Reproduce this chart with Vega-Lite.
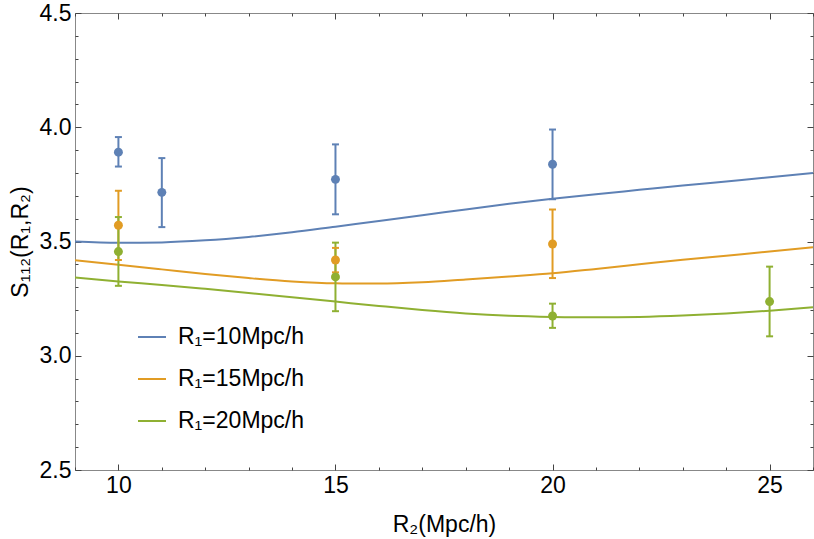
{
  "$schema": "https://vega.github.io/schema/vega-lite/v6.json",
  "width": 738,
  "height": 457,
  "autosize": "none",
  "padding": {"left": 75, "top": 13, "right": 1, "bottom": 69},
  "background": "white",
  "config": {
    "view": {"stroke": "#888888", "strokeWidth": 1},
    "font": "Liberation Sans",
    "axis": {"grid": false, "domain": false, "tickColor": "#444444", "tickWidth": 1, "labelColor": "black", "titleColor": "black", "titleFontWeight": "normal", "labelOverlap": false, "labelFlush": false}
  },
  "datasets": {
    "curves": [
      {"series": "R₁=10Mpc/h", "r2": 9, "s": 3.500},
      {"series": "R₁=10Mpc/h", "r2": 10, "s": 3.494},
      {"series": "R₁=10Mpc/h", "r2": 11, "s": 3.496},
      {"series": "R₁=10Mpc/h", "r2": 12, "s": 3.505},
      {"series": "R₁=10Mpc/h", "r2": 13, "s": 3.520},
      {"series": "R₁=10Mpc/h", "r2": 14, "s": 3.540},
      {"series": "R₁=10Mpc/h", "r2": 15, "s": 3.565},
      {"series": "R₁=10Mpc/h", "r2": 16, "s": 3.590},
      {"series": "R₁=10Mpc/h", "r2": 17, "s": 3.615},
      {"series": "R₁=10Mpc/h", "r2": 18, "s": 3.640},
      {"series": "R₁=10Mpc/h", "r2": 19, "s": 3.665},
      {"series": "R₁=10Mpc/h", "r2": 20, "s": 3.687},
      {"series": "R₁=10Mpc/h", "r2": 21, "s": 3.707},
      {"series": "R₁=10Mpc/h", "r2": 22, "s": 3.726},
      {"series": "R₁=10Mpc/h", "r2": 23, "s": 3.745},
      {"series": "R₁=10Mpc/h", "r2": 24, "s": 3.763},
      {"series": "R₁=10Mpc/h", "r2": 25, "s": 3.781},
      {"series": "R₁=10Mpc/h", "r2": 26, "s": 3.800},
      {"series": "R₁=15Mpc/h", "r2": 9, "s": 3.418},
      {"series": "R₁=15Mpc/h", "r2": 10, "s": 3.398},
      {"series": "R₁=15Mpc/h", "r2": 11, "s": 3.378},
      {"series": "R₁=15Mpc/h", "r2": 12, "s": 3.358},
      {"series": "R₁=15Mpc/h", "r2": 13, "s": 3.340},
      {"series": "R₁=15Mpc/h", "r2": 14, "s": 3.325},
      {"series": "R₁=15Mpc/h", "r2": 15, "s": 3.317},
      {"series": "R₁=15Mpc/h", "r2": 16, "s": 3.316},
      {"series": "R₁=15Mpc/h", "r2": 17, "s": 3.322},
      {"series": "R₁=15Mpc/h", "r2": 18, "s": 3.334},
      {"series": "R₁=15Mpc/h", "r2": 19, "s": 3.347},
      {"series": "R₁=15Mpc/h", "r2": 20, "s": 3.361},
      {"series": "R₁=15Mpc/h", "r2": 21, "s": 3.380},
      {"series": "R₁=15Mpc/h", "r2": 22, "s": 3.400},
      {"series": "R₁=15Mpc/h", "r2": 23, "s": 3.420},
      {"series": "R₁=15Mpc/h", "r2": 24, "s": 3.438},
      {"series": "R₁=15Mpc/h", "r2": 25, "s": 3.456},
      {"series": "R₁=15Mpc/h", "r2": 26, "s": 3.475},
      {"series": "R₁=20Mpc/h", "r2": 9, "s": 3.343},
      {"series": "R₁=20Mpc/h", "r2": 10, "s": 3.325},
      {"series": "R₁=20Mpc/h", "r2": 11, "s": 3.310},
      {"series": "R₁=20Mpc/h", "r2": 12, "s": 3.293},
      {"series": "R₁=20Mpc/h", "r2": 13, "s": 3.275},
      {"series": "R₁=20Mpc/h", "r2": 14, "s": 3.256},
      {"series": "R₁=20Mpc/h", "r2": 15, "s": 3.237},
      {"series": "R₁=20Mpc/h", "r2": 16, "s": 3.218},
      {"series": "R₁=20Mpc/h", "r2": 17, "s": 3.200},
      {"series": "R₁=20Mpc/h", "r2": 18, "s": 3.185},
      {"series": "R₁=20Mpc/h", "r2": 19, "s": 3.175},
      {"series": "R₁=20Mpc/h", "r2": 20, "s": 3.170},
      {"series": "R₁=20Mpc/h", "r2": 21, "s": 3.168},
      {"series": "R₁=20Mpc/h", "r2": 22, "s": 3.170},
      {"series": "R₁=20Mpc/h", "r2": 23, "s": 3.176},
      {"series": "R₁=20Mpc/h", "r2": 24, "s": 3.185},
      {"series": "R₁=20Mpc/h", "r2": 25, "s": 3.197},
      {"series": "R₁=20Mpc/h", "r2": 26, "s": 3.212}
    ],
    "points": [
      {"series": "R₁=10Mpc/h", "r2": 10, "s": 3.891, "lo": 3.828, "hi": 3.957},
      {"series": "R₁=10Mpc/h", "r2": 11, "s": 3.715, "lo": 3.563, "hi": 3.865},
      {"series": "R₁=10Mpc/h", "r2": 15, "s": 3.772, "lo": 3.619, "hi": 3.925},
      {"series": "R₁=10Mpc/h", "r2": 20, "s": 3.838, "lo": 3.685, "hi": 3.990},
      {"series": "R₁=15Mpc/h", "r2": 10, "s": 3.571, "lo": 3.419, "hi": 3.722},
      {"series": "R₁=15Mpc/h", "r2": 15, "s": 3.419, "lo": 3.365, "hi": 3.472},
      {"series": "R₁=15Mpc/h", "r2": 20, "s": 3.489, "lo": 3.340, "hi": 3.640},
      {"series": "R₁=20Mpc/h", "r2": 10, "s": 3.456, "lo": 3.306, "hi": 3.607},
      {"series": "R₁=20Mpc/h", "r2": 15, "s": 3.345, "lo": 3.195, "hi": 3.495},
      {"series": "R₁=20Mpc/h", "r2": 20, "s": 3.174, "lo": 3.122, "hi": 3.228},
      {"series": "R₁=20Mpc/h", "r2": 25, "s": 3.237, "lo": 3.085, "hi": 3.390}
    ]
  },
  "layer": [
    {
      "data": {"name": "curves"},
      "mark": {"type": "line", "strokeWidth": 2, "interpolate": "monotone", "clip": true},
      "encoding": {
        "x": {"field": "r2", "type": "quantitative",
          "scale": {"domain": [9, 26], "nice": false, "zero": false},
          "axis": {"orient": "bottom", "values": [9,10,11,12,13,14,15,16,17,18,19,20,21,22,23,24,25,26],
            "tickSize": {"condition": {"test": "datum.value % 5 === 0", "value": -6}, "value": -3},
            "labelExpr": "datum.value % 5 === 0 ? datum.label : ''",
            "labelFontSize": 23, "labelPadding": 10,
            "title": "R₂(Mpc/h)", "titleFontSize": 23, "titlePadding": 13}},
        "y": {"field": "s", "type": "quantitative",
          "scale": {"domain": [2.5, 4.5], "nice": false, "zero": false},
          "axis": {"orient": "left", "values": [2.5,2.6,2.7,2.8,2.9,3.0,3.1,3.2,3.3,3.4,3.5,3.6,3.7,3.8,3.9,4.0,4.1,4.2,4.3,4.4,4.5],
            "tickSize": {"condition": {"test": "round(datum.value*10) % 5 === 0", "value": -6}, "value": -3},
            "labelExpr": "round(datum.value*10) % 5 === 0 ? format(datum.value, '.1f') : ''",
            "labelFontSize": 23, "labelPadding": 10,
            "title": "S₁₁₂(R₁,R₂)", "titleFontSize": 23, "titlePadding": 7}},
        "color": {"field": "series", "type": "nominal",
          "scale": {"domain": ["R₁=10Mpc/h", "R₁=15Mpc/h", "R₁=20Mpc/h"], "range": ["#5E81B5", "#E19C24", "#8FB032"]},
          "legend": {"orient": "none", "legendX": 62, "legendY": 309, "title": null, "symbolType": "stroke",
            "symbolSize": 784, "symbolStrokeWidth": 2, "labelFontSize": 23, "labelOffset": 11,
            "rowPadding": 15, "padding": 0, "labelColor": "black", "labelLimit": 400}}
      }
    },
    {
      "data": {"name": "points"},
      "mark": {"type": "rule", "strokeWidth": 2},
      "encoding": {
        "x": {"field": "r2", "type": "quantitative", "axis": null},
        "y": {"field": "lo", "type": "quantitative", "axis": null},
        "y2": {"field": "hi"},
        "color": {"field": "series", "type": "nominal", "legend": null}
      }
    },
    {
      "data": {"name": "points"},
      "mark": {"type": "tick", "orient": "horizontal", "size": 7, "thickness": 2, "opacity": 1},
      "encoding": {
        "x": {"field": "r2", "type": "quantitative", "axis": null},
        "y": {"field": "lo", "type": "quantitative", "axis": null},
        "color": {"field": "series", "type": "nominal", "legend": null}
      }
    },
    {
      "data": {"name": "points"},
      "mark": {"type": "tick", "orient": "horizontal", "size": 7, "thickness": 2, "opacity": 1},
      "encoding": {
        "x": {"field": "r2", "type": "quantitative", "axis": null},
        "y": {"field": "hi", "type": "quantitative", "axis": null},
        "color": {"field": "series", "type": "nominal", "legend": null}
      }
    },
    {
      "data": {"name": "points"},
      "mark": {"type": "circle", "size": 80, "opacity": 1},
      "encoding": {
        "x": {"field": "r2", "type": "quantitative",
          "axis": {"orient": "top", "values": [9,10,11,12,13,14,15,16,17,18,19,20,21,22,23,24,25,26],
            "tickSize": {"condition": {"test": "datum.value % 5 === 0", "value": -6}, "value": -3},
            "labels": false, "title": null}},
        "y": {"field": "s", "type": "quantitative",
          "axis": {"orient": "right", "values": [2.5,2.6,2.7,2.8,2.9,3.0,3.1,3.2,3.3,3.4,3.5,3.6,3.7,3.8,3.9,4.0,4.1,4.2,4.3,4.4,4.5],
            "tickSize": {"condition": {"test": "round(datum.value*10) % 5 === 0", "value": -6}, "value": -3},
            "labels": false, "title": null}},
        "color": {"field": "series", "type": "nominal", "legend": null}
      }
    }
  ],
  "resolve": {"axis": {"x": "independent", "y": "independent"}}
}
